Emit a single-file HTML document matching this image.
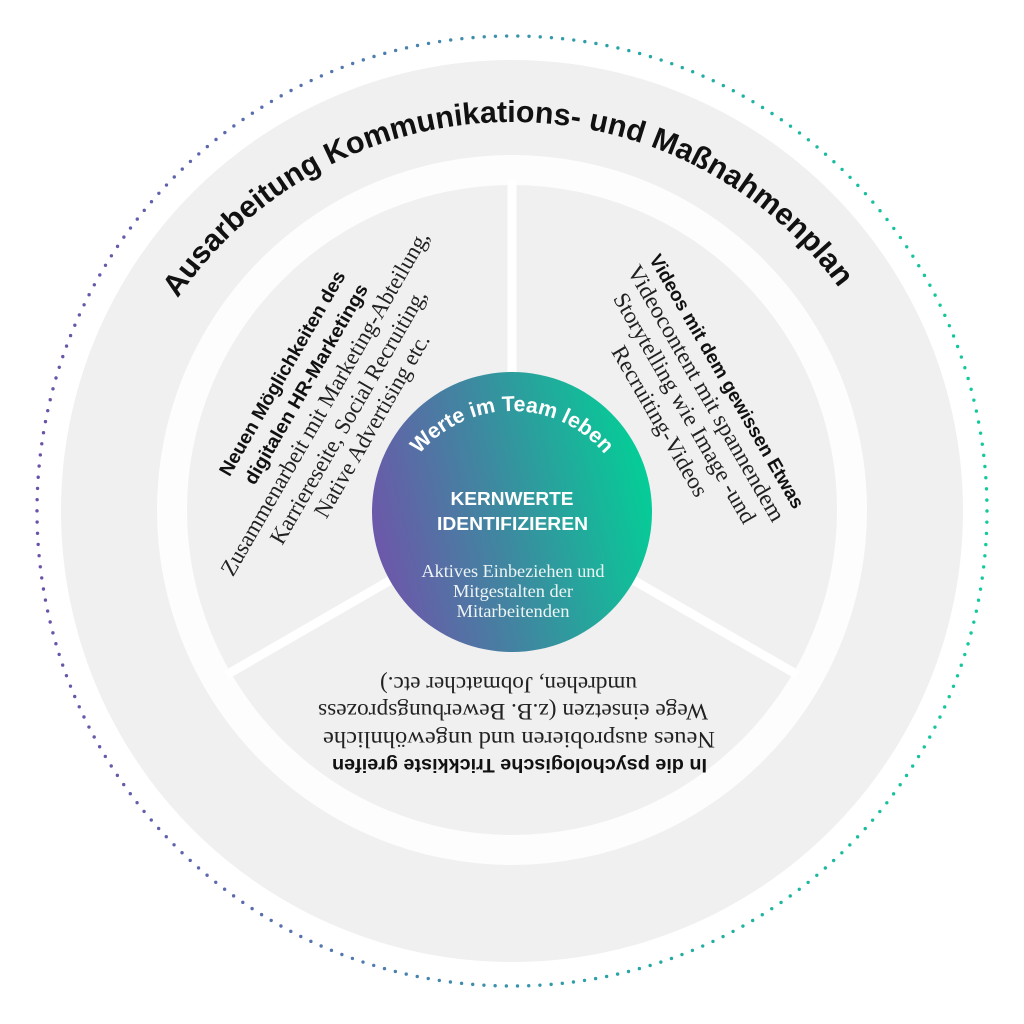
<!DOCTYPE html>
<html>
<head>
<meta charset="utf-8">
<style>
  html, body { margin: 0; padding: 0; background: #ffffff; }
  svg { display: block; }
</style>
</head>
<body>
<svg width="1024" height="1024" viewBox="0 0 1024 1024" xmlns="http://www.w3.org/2000/svg">
  <defs>
    <linearGradient id="dg" x1="0" y1="0" x2="1" y2="0">
      <stop offset="0" stop-color="#6a52a8"/>
      <stop offset="0.35" stop-color="#4f7cb0"/>
      <stop offset="0.62" stop-color="#27a6a6"/>
      <stop offset="1" stop-color="#12ca9b"/>
    </linearGradient>
    <linearGradient id="cg" x1="0" y1="0.62" x2="1" y2="0.38">
      <stop offset="0" stop-color="#6e56aa"/>
      <stop offset="0.45" stop-color="#3e88a0"/>
      <stop offset="1" stop-color="#03cf97"/>
    </linearGradient>
    <path id="tp" d="M 113.15 456.67 A 405 405 0 0 1 910.85 456.67"/>
    <path id="cp" d="M 392.84 510.99 A 121 121 0 0 1 631.16 510.99"/>
  </defs>

  <rect x="0" y="0" width="1024" height="1024" fill="#ffffff"/>

  <!-- rings -->
  <circle cx="512" cy="511" r="451" fill="#f0f0f0"/>
  <circle cx="512" cy="510" r="355" fill="#fdfdfd"/>
  <circle cx="512" cy="510" r="325" fill="#f0f0f0"/>

  <!-- spokes -->
  <g stroke="#ffffff" stroke-width="9" stroke-linecap="butt">
    <line x1="512" y1="510" x2="512" y2="180"/>
    <line x1="512" y1="510" x2="226.2" y2="675"/>
    <line x1="512" y1="510" x2="797.8" y2="675"/>
  </g>

  <!-- center circle -->
  <circle cx="512" cy="512" r="140" fill="url(#cg)"/>

  <!-- dotted outer ring -->
  <circle cx="512" cy="511" r="475" fill="none" stroke="url(#dg)" stroke-width="3.4"
          stroke-linecap="round" stroke-dasharray="0 11.22"/>

  <!-- outer arc title -->
  <g transform="rotate(-0.9 512 527)">
    <text font-family="'Liberation Sans', Arial, sans-serif" font-weight="700" font-size="30.4" fill="#111111">
      <textPath href="#tp" startOffset="50%" text-anchor="middle">Ausarbeitung Kommunikations- und Maßnahmenplan</textPath>
    </text>
  </g>

  <!-- center arc title -->
  <text font-family="'Liberation Sans', Arial, sans-serif" font-weight="700" font-size="21.3" fill="#ffffff">
    <textPath href="#cp" startOffset="50%" text-anchor="middle">Werte im Team leben</textPath>
  </text>

  <!-- center texts -->
  <g font-family="'Liberation Sans', Arial, sans-serif" font-weight="700" font-size="18.5" fill="#ffffff" text-anchor="middle">
    <text x="512" y="505" textLength="123" lengthAdjust="spacingAndGlyphs">KERNWERTE</text>
    <text x="512.5" y="530" textLength="151" lengthAdjust="spacingAndGlyphs">IDENTIFIZIEREN</text>
  </g>
  <g font-family="'Liberation Serif', 'Times New Roman', serif" font-size="18" fill="#eef5f4" text-anchor="middle">
    <text x="513" y="577" textLength="183" lengthAdjust="spacingAndGlyphs">Aktives Einbeziehen und</text>
    <text x="513" y="597" textLength="120" lengthAdjust="spacingAndGlyphs">Mitgestalten der</text>
    <text x="513" y="617" textLength="113" lengthAdjust="spacingAndGlyphs">Mitarbeitenden</text>
  </g>

  <!-- left sector -->
  <g transform="rotate(-60 512 510)">
    <g font-family="'Liberation Sans', Arial, sans-serif" font-weight="700" font-size="19" fill="#111111">
      <text x="399" y="249" textLength="233" lengthAdjust="spacingAndGlyphs">Neuen Möglichkeiten des</text>
      <text x="404" y="275" textLength="228" lengthAdjust="spacingAndGlyphs">digitalen HR-Marketings</text>
    </g>
    <g font-family="'Liberation Serif', 'Times New Roman', serif" font-size="23" fill="#222222">
      <text x="314" y="302" textLength="394" lengthAdjust="spacingAndGlyphs">Zusammenarbeit mit Marketing-Abteilung,</text>
      <text x="366" y="329" textLength="290" lengthAdjust="spacingAndGlyphs">Karriereseite, Social Recruiting,</text>
      <text x="411" y="354" textLength="208" lengthAdjust="spacingAndGlyphs">Native Advertising etc.</text>
    </g>
  </g>

  <!-- right sector -->
  <g transform="rotate(60 512 510)">
    <g font-family="'Liberation Sans', Arial, sans-serif" font-weight="700" font-size="19" fill="#111111">
      <text x="363" y="266" textLength="290" lengthAdjust="spacingAndGlyphs">Videos mit dem gewissen Etwas</text>
    </g>
    <g font-family="'Liberation Serif', 'Times New Roman', serif" font-size="23" fill="#222222">
      <text x="362" y="291" textLength="292" lengthAdjust="spacingAndGlyphs">Videocontent mit spannendem</text>
      <text x="379" y="317" textLength="262" lengthAdjust="spacingAndGlyphs">Storytelling wie Image -und</text>
      <text x="424" y="345" textLength="170" lengthAdjust="spacingAndGlyphs">Recruiting-Videos</text>
    </g>
  </g>

  <!-- bottom sector -->
  <g transform="rotate(180 512 510)">
    <g font-family="'Liberation Sans', Arial, sans-serif" font-weight="700" font-size="19" fill="#111111">
      <text x="317" y="261" textLength="375" lengthAdjust="spacingAndGlyphs">In die psychologische Trickkiste greifen</text>
    </g>
    <g font-family="'Liberation Serif', 'Times New Roman', serif" font-size="23" fill="#222222">
      <text x="309" y="288" textLength="392" lengthAdjust="spacingAndGlyphs">Neues ausprobieren und ungewöhnliche</text>
      <text x="316" y="316" textLength="390" lengthAdjust="spacingAndGlyphs">Wege einsetzen (z.B. Bewerbungsprozess</text>
      <text x="387" y="343" textLength="257" lengthAdjust="spacingAndGlyphs">umdrehen, Jobmatcher etc.)</text>
    </g>
  </g>
</svg>
</body>
</html>
